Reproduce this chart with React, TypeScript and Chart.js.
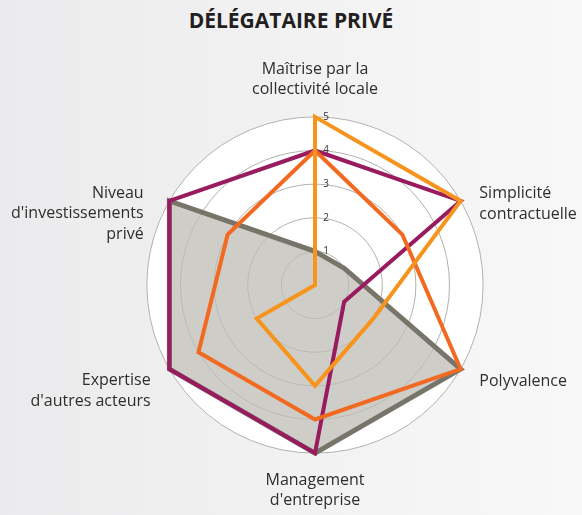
import React, { useEffect, useRef } from "react";
import { Chart, registerables } from "chart.js";

Chart.register(...registerables);

const TITLE = "DÉLÉGATAIRE PRIVÉ";
const categories: (string | string[])[] = [
  ["Maîtrise par la", "collectivité locale"],
  ["Simplicité", "contractuelle"],
  "Polyvalence",
  ["Management", "d'entreprise"],
  ["Expertise", "d'autres acteurs"],
  ["Niveau", "d'investissements", "privé"],
];
const grayValues = [1, 1, 5, 5, 5, 5];
const purpleValues = [4, 5, 1, 5, 5, 5];
const darkOrangeValues = [4, 3, 5, 4, 4, 3];
const lightOrangeValues = [5, 5, 2, 3, 2, 0];
const tickValues = [1, 2, 3, 4, 5];

const FONT = "'Open Sans', 'DejaVu Sans', sans-serif";

// per-label nudges [dx, dy] in pixels (layout only)
const LABEL_NUDGE: [number, number][] = [
  [0, 0],
  [4, 32],
  [4, -6],
  [0, 0],
  [-4, -7],
  [-11, 52],
];

const discPlugin = {
  id: "disc",
  beforeDraw(chart: any) {
    const s = chart.scales.r;
    if (!s) return;
    const ctx = chart.ctx;
    ctx.save();
    ctx.beginPath();
    ctx.arc(s.xCenter, s.yCenter, s.drawingArea, 0, Math.PI * 2);
    ctx.fillStyle = "#ffffff";
    ctx.fill();
    ctx.restore();
  },
  afterDraw(chart: any) {
    const s = chart.scales.r;
    if (!s) return;
    const ctx = chart.ctx;
    ctx.save();
    ctx.font = `10px ${FONT}`;
    ctx.fillStyle = "#333333";
    ctx.textAlign = "center";
    ctx.textBaseline = "middle";
    tickValues.forEach((v) => {
      const p = s.getPointPositionForValue(0, v);
      ctx.fillText(String(v), p.x + 11, p.y);
    });
    ctx.restore();
  },
};

export default function App() {
  const ref = useRef<HTMLCanvasElement | null>(null);
  useEffect(() => {
    if (!ref.current) return;
    const chart = new Chart(ref.current, {
      type: "radar",
      data: {
        labels: categories,
        datasets: [
          {
            label: "light",
            data: lightOrangeValues,
            borderColor: "#f7941d",
            borderWidth: 4,
            fill: false,
            pointRadius: 0,
            order: 1,
          },
          {
            label: "dark",
            data: darkOrangeValues,
            borderColor: "#f26a21",
            borderWidth: 4,
            fill: false,
            pointRadius: 0,
            order: 2,
          },
          {
            label: "purple",
            data: purpleValues,
            borderColor: "#981b5f",
            borderWidth: 4,
            fill: false,
            pointRadius: 0,
            order: 3,
          },
          {
            label: "gray",
            data: grayValues,
            borderColor: "#77746a",
            backgroundColor: "rgba(190,188,181,0.75)",
            borderWidth: 5,
            fill: true,
            pointRadius: 0,
            order: 4,
          },
        ],
      },
      options: {
        animation: false,
        responsive: false,
        layout: { padding: { left: 0, right: 0, top: 58, bottom: 1 } },
        plugins: {
          legend: { display: false },
          title: { display: false },
          tooltip: { enabled: false },
        },
        elements: { line: { tension: 0, borderJoinStyle: "miter" } },
        scales: {
          r: {
            min: 0,
            max: 5,
            ticks: { stepSize: 1, display: false },
            grid: { circular: true, color: "#b3b1ac", lineWidth: 1 },
            angleLines: { display: false },
            pointLabels: {
              font: { family: FONT, size: 16, lineHeight: 1.28 },
              color: "#2e2e2e",
              padding: 17,
            },
            afterFit(scale: any) {
              const items = scale._pointLabelItems;
              if (!items) return;
              items.forEach((it: any, i: number) => {
                const n = LABEL_NUDGE[i] || [0, 0];
                it.x += n[0];
                it.left += n[0];
                it.right += n[0];
                it.y += n[1];
                it.top += n[1];
                it.bottom += n[1];
              });
            },
          },
        },
      },
      plugins: [discPlugin],
    });
    return () => chart.destroy();
  }, []);

  return (
    <div
      style={{
        position: "fixed",
        left: 0,
        top: 0,
        width: 582,
        height: 515,
        background: "linear-gradient(90deg, #ebebed 0%, #f3f3f4 60%, #f8f8f8 100%)",
        overflow: "hidden",
      }}
    >
      <div
        style={{
          position: "absolute",
          left: 0,
          top: 6,
          width: 582,
          textAlign: "center",
          fontFamily: FONT,
          fontWeight: 700,
          fontSize: 21,
          color: "#231f20",
        }}
      >
        {TITLE}
      </div>
      <canvas ref={ref} width={586} height={515} style={{ position: "absolute", left: 2, top: 0 }} />
    </div>
  );
}
